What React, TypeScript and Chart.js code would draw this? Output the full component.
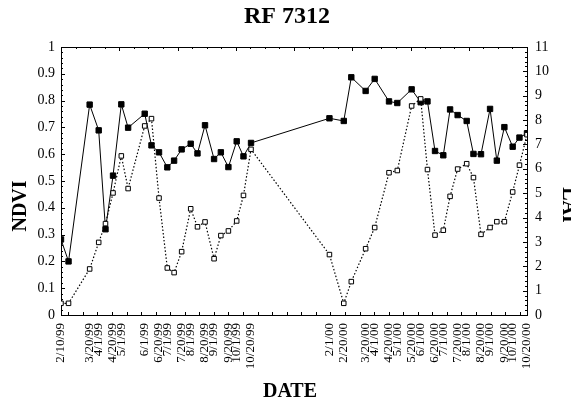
import React, { useEffect, useRef } from "react";
import { Chart, registerables } from "chart.js";

Chart.register(...registerables);

const title = "RF 7312";
const xTitle = "DATE";
const yTitle = "NDVI";
const y2Title = "LAI";

const dates = [
  "2/10/99", "2/20/99", "3/20/99", "4/1/99", "4/10/99", "4/20/99", "5/1/99", "5/10/99",
  "6/1/99", "6/10/99", "6/20/99", "7/1/99", "7/10/99", "7/20/99", "8/1/99", "8/10/99",
  "8/20/99", "9/1/99", "9/10/99", "9/20/99", "10/1/99", "10/10/99", "10/20/99",
  "2/1/00", "2/20/00", "3/1/00", "3/20/00", "4/1/00", "4/20/00", "5/1/00", "5/20/00",
  "6/1/00", "6/10/00", "6/20/00", "7/1/00", "7/10/00", "7/20/00", "8/1/00", "8/10/00",
  "8/20/00", "9/1/00", "9/10/00", "9/20/00", "10/1/00", "10/10/00", "10/20/00",
];

const ndvi = [
  0.282, 0.2, 0.785, 0.689, 0.32, 0.52, 0.786, 0.699,
  0.751, 0.633, 0.607, 0.551, 0.576, 0.618, 0.639, 0.603,
  0.708, 0.582, 0.607, 0.552, 0.648, 0.592, 0.642,
  0.734, 0.724, 0.887, 0.836, 0.881, 0.797, 0.791, 0.842,
  0.794, 0.797, 0.612, 0.596, 0.767, 0.746, 0.724, 0.601,
  0.6, 0.769, 0.576, 0.701, 0.628, 0.662, 0.678,
];

const lai = [
  0.48, 0.48, 1.89, 2.98, 3.75, 5.01, 6.53, 5.19,
  7.76, 8.06, 4.8, 1.93, 1.74, 2.6, 4.36, 3.62,
  3.82, 2.31, 3.26, 3.45, 3.86, 4.91, 6.8,
  2.48, 0.48, 1.37, 2.72, 3.59, 5.84, 5.93, 8.58,
  8.87, 5.97, 3.28, 3.48, 4.87, 5.99, 6.21, 5.64,
  3.31, 3.59, 3.83, 3.83, 5.05, 6.15, 7.4,
];

const tickLabels = [
  "2/10/99", "3/20/99", "4/1/99", "4/20/99", "5/1/99", "6/1/99", "6/20/99", "7/1/99",
  "7/20/99", "8/1/99", "8/20/99", "9/1/99", "9/20/99", "10/1/99", "10/20/99",
  "2/1/00", "2/20/00", "3/20/00", "4/1/00", "4/20/00", "5/1/00", "5/20/00", "6/1/00",
  "6/20/00", "7/1/00", "7/20/00", "8/1/00", "8/20/00", "9/1/00", "9/20/00", "10/1/00", "10/20/00",
];

const toDay = (s: string) => {
  const [m, d, y] = s.split("/").map(Number);
  return Date.UTC(y < 50 ? 2000 + y : 1900 + y, m - 1, d) / 86400000;
};
const day0 = toDay(tickLabels[0]);
const rel = (s: string) => toDay(s) - day0;

const FONT = "'Liberation Serif', 'Times New Roman', serif";

const decor = {
  id: "decor",
  beforeDatasetsDraw(chart: any) {
    const { ctx, chartArea: a, scales } = chart;
    ctx.save();
    ctx.strokeStyle = "#000";
    ctx.lineWidth = 1;
    ctx.beginPath();
    const top = Math.round(a.top) + 0.5;
    ctx.moveTo(a.left, top);
    ctx.lineTo(a.right, top);
    for (let i = 0; i <= 50; i++) {
      const y = Math.round(scales.y.getPixelForValue(i * 0.02)) + 0.5;
      const len = i % 5 === 0 ? 4 : 2;
      ctx.moveTo(a.left, y);
      ctx.lineTo(a.left + len, y);
    }
    for (let i = 0; i <= 55; i++) {
      const y = Math.round(scales.y2.getPixelForValue(i * 0.2)) + 0.5;
      const len = i % 5 === 0 ? 4 : 2;
      ctx.moveTo(a.right, y);
      ctx.lineTo(a.right - len, y);
    }
    const n = 32;
    const w = (a.right - a.left) / n;
    for (let i = 0; i <= n; i++) {
      const x = Math.round(a.left + i * w) + 0.5;
      const len = i % 4 === 0 ? 4 : 2;
      ctx.moveTo(x, a.top);
      ctx.lineTo(x, a.top + len);
    }
    for (let i = 0; i < n; i++) {
      const x = Math.round(a.left + (i + 0.5) * w) + 0.5;
      ctx.moveTo(x, a.bottom);
      ctx.lineTo(x, a.bottom - 3);
    }
    ctx.stroke();
    ctx.restore();
  },
  afterDraw(chart: any) {
    const { ctx, chartArea: a } = chart;
    ctx.save();
    ctx.fillStyle = "#000";
    ctx.textAlign = "center";
    ctx.textBaseline = "alphabetic";
    ctx.font = `bold 24px ${FONT}`;
    ctx.fillText(title, (a.left + a.right) / 2 - 7, 23);
    ctx.font = `bold 20px ${FONT}`;
    ctx.fillText(xTitle, (a.left + a.right) / 2 - 4, 397);
    ctx.save();
    ctx.translate(26, 206);
    ctx.rotate(-Math.PI / 2);
    ctx.fillText(yTitle, 0, 0);
    ctx.restore();
    ctx.save();
    ctx.translate(563, 205);
    ctx.rotate(Math.PI / 2);
    ctx.fillText(y2Title, 0, 0);
    ctx.restore();
    ctx.restore();
  },
};

export default function App() {
  const ref = useRef<HTMLCanvasElement | null>(null);
  useEffect(() => {
    if (!ref.current) return;
    const tickDays = tickLabels.map(rel);
    const chart = new Chart(ref.current, {
      type: "line",
      data: {
        datasets: [
          {
            label: "NDVI",
            data: dates.map((d, i) => ({ x: rel(d), y: ndvi[i] })),
            yAxisID: "y",
            borderColor: "#000",
            borderWidth: 1,
            backgroundColor: "#000",
            pointStyle: "rect",
            pointRadius: 3.8,
            pointBorderWidth: 1,
            pointBackgroundColor: "#000",
            pointBorderColor: "#000",
            order: 1,
          },
          {
            label: "LAI",
            data: dates.map((d, i) => ({ x: rel(d), y: lai[i] })),
            yAxisID: "y2",
            borderColor: "#000",
            borderWidth: 1.2,
            borderDash: [1.5, 2],
            backgroundColor: "#fff",
            pointStyle: "rect",
            pointRadius: 3.2,
            pointBorderWidth: 1,
            pointBackgroundColor: "#fff",
            pointBorderColor: "#000",
            order: 0,
          },
        ],
      },
      options: {
        responsive: false,
        animation: false,
        devicePixelRatio: 1,
        layout: { padding: { top: 47, left: 0, right: 0, bottom: 0 } },
        plugins: { legend: { display: false }, tooltip: { enabled: false }, title: { display: false } },
        scales: {
          x: {
            type: "linear",
            position: "bottom",
            min: 0,
            max: tickDays[tickDays.length - 1],
            afterBuildTicks: (s: any) => {
              s.ticks = tickDays.map((v) => ({ value: v }));
            },
            afterFit: (s: any) => {
              s.height = 89;
              s.paddingLeft = 0;
              s.paddingRight = 0;
            },
            ticks: {
              autoSkip: false,
              minRotation: 90,
              maxRotation: 90,
              padding: 8,
              color: "#000",
              font: { family: FONT, size: 13 },
              callback: (_v: any, i: number) => tickLabels[i],
            },
            grid: { display: true, drawOnChartArea: false, drawTicks: false },
            border: { display: true, color: "#000", width: 1 },
          },
          y: {
            type: "linear",
            position: "left",
            min: 0,
            max: 1,
            afterFit: (s: any) => {
              s.width = 61;
            },
            ticks: {
              stepSize: 0.1,
              padding: 6,
              color: "#000",
              font: { family: FONT, size: 14 },
              callback: (v: any) => String(Number(Number(v).toFixed(1))),
            },
            grid: { display: true, drawOnChartArea: false, drawTicks: false },
            border: { display: true, color: "#000", width: 1 },
          },
          y2: {
            type: "linear",
            position: "right",
            min: 0,
            max: 11,
            afterFit: (s: any) => {
              s.width = 44;
            },
            ticks: {
              stepSize: 1,
              padding: 8,
              color: "#000",
              font: { family: FONT, size: 14 },
            },
            grid: { display: true, drawOnChartArea: false, drawTicks: false },
            border: { display: true, color: "#000", width: 1 },
          },
        },
      },
      plugins: [decor],
    } as any);
    return () => chart.destroy();
  }, []);
  return (
    <div style={{ position: "fixed", left: 0, top: 0, width: 571, height: 404, overflow: "hidden", background: "#fff" }}>
      <canvas ref={ref} width={571} height={404} style={{ display: "block" }} />
    </div>
  );
}
